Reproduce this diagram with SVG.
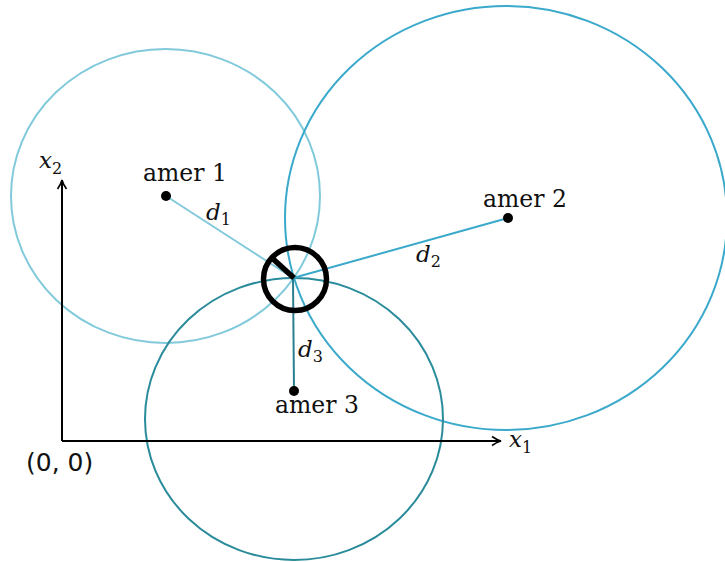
<svg xmlns="http://www.w3.org/2000/svg" width="725" height="562" viewBox="0 0 725 562">
<style>
.t{font-family:"DejaVu Serif","Liberation Serif",serif;font-size:23.5px;fill:#111}
.m{font-family:"DejaVu Serif","Liberation Serif",serif;font-style:italic;font-size:23px;fill:#111}
.s{font-size:16px;font-style:normal}
.ax{stroke:#000;stroke-width:2;fill:none}
.dot{fill:#000}
</style>
<defs>
<marker id="arr" viewBox="0 0 12 12" refX="10" refY="6" markerWidth="12" markerHeight="12" markerUnits="userSpaceOnUse" orient="auto">
<path d="M1,1.5 Q6,5 10,6 Q6,7 1,10.5" fill="none" stroke="#000" stroke-width="1.6"/>
</marker>
</defs>
<rect width="725" height="562" fill="#fff"/>
<g id="circles" fill="none" stroke-width="2">
<ellipse id="c1" cx="165.5" cy="196" rx="154.5" ry="147" stroke="#82cadb"/>
<ellipse id="c2" cx="506" cy="218" rx="221" ry="212" stroke="#3aa9cb"/>
<ellipse id="c3" cx="294" cy="419" rx="149" ry="141" stroke="#2a8b9b"/>
</g>
<g id="axes">
<path class="ax" d="M62,441 H501" marker-end="url(#arr)"/>
<path class="ax" d="M62,441 V180" marker-end="url(#arr)"/>
<text class="m" x="39" y="168">x<tspan class="s" dy="6">2</tspan></text>
<text class="m" x="509" y="447">x<tspan class="s" dy="6">1</tspan></text>
<text x="26" y="471" style="font-family:'DejaVu Sans','Liberation Sans',sans-serif;font-size:25px;fill:#111">(0, 0)</text>
</g>
<g id="connectors" stroke-width="2">
<line x1="166" y1="196" x2="293" y2="278" stroke="#82cadb"/>
<line x1="293" y1="278" x2="508" y2="218" stroke="#3aa9cb"/>
<line x1="293" y1="278" x2="294" y2="391" stroke="#2a7f8f"/>
</g>
<g id="amer1">
<circle class="dot" cx="166" cy="196" r="5"/>
<text class="t" x="185" y="181" text-anchor="middle">amer 1</text>
</g>
<g id="amer2">
<circle class="dot" cx="508" cy="218" r="5"/>
<text class="t" x="525" y="207" text-anchor="middle">amer 2</text>
</g>
<g id="amer3">
<circle class="dot" cx="294" cy="391" r="5"/>
<text class="t" x="317" y="413" text-anchor="middle">amer 3</text>
</g>
<g id="labels">
<text class="m" x="206" y="220">d<tspan class="s" dy="5">1</tspan></text>
<text class="m" x="416" y="262">d<tspan class="s" dy="5">2</tspan></text>
<text class="m" x="298" y="357">d<tspan class="s" dy="5">3</tspan></text>
</g>
<g id="position">
<circle cx="295" cy="279" r="31.5" fill="none" stroke="#000" stroke-width="5.5"/>
<line x1="294" y1="278" x2="272" y2="258" stroke="#000" stroke-width="5.5"/>
</g>
</svg>
